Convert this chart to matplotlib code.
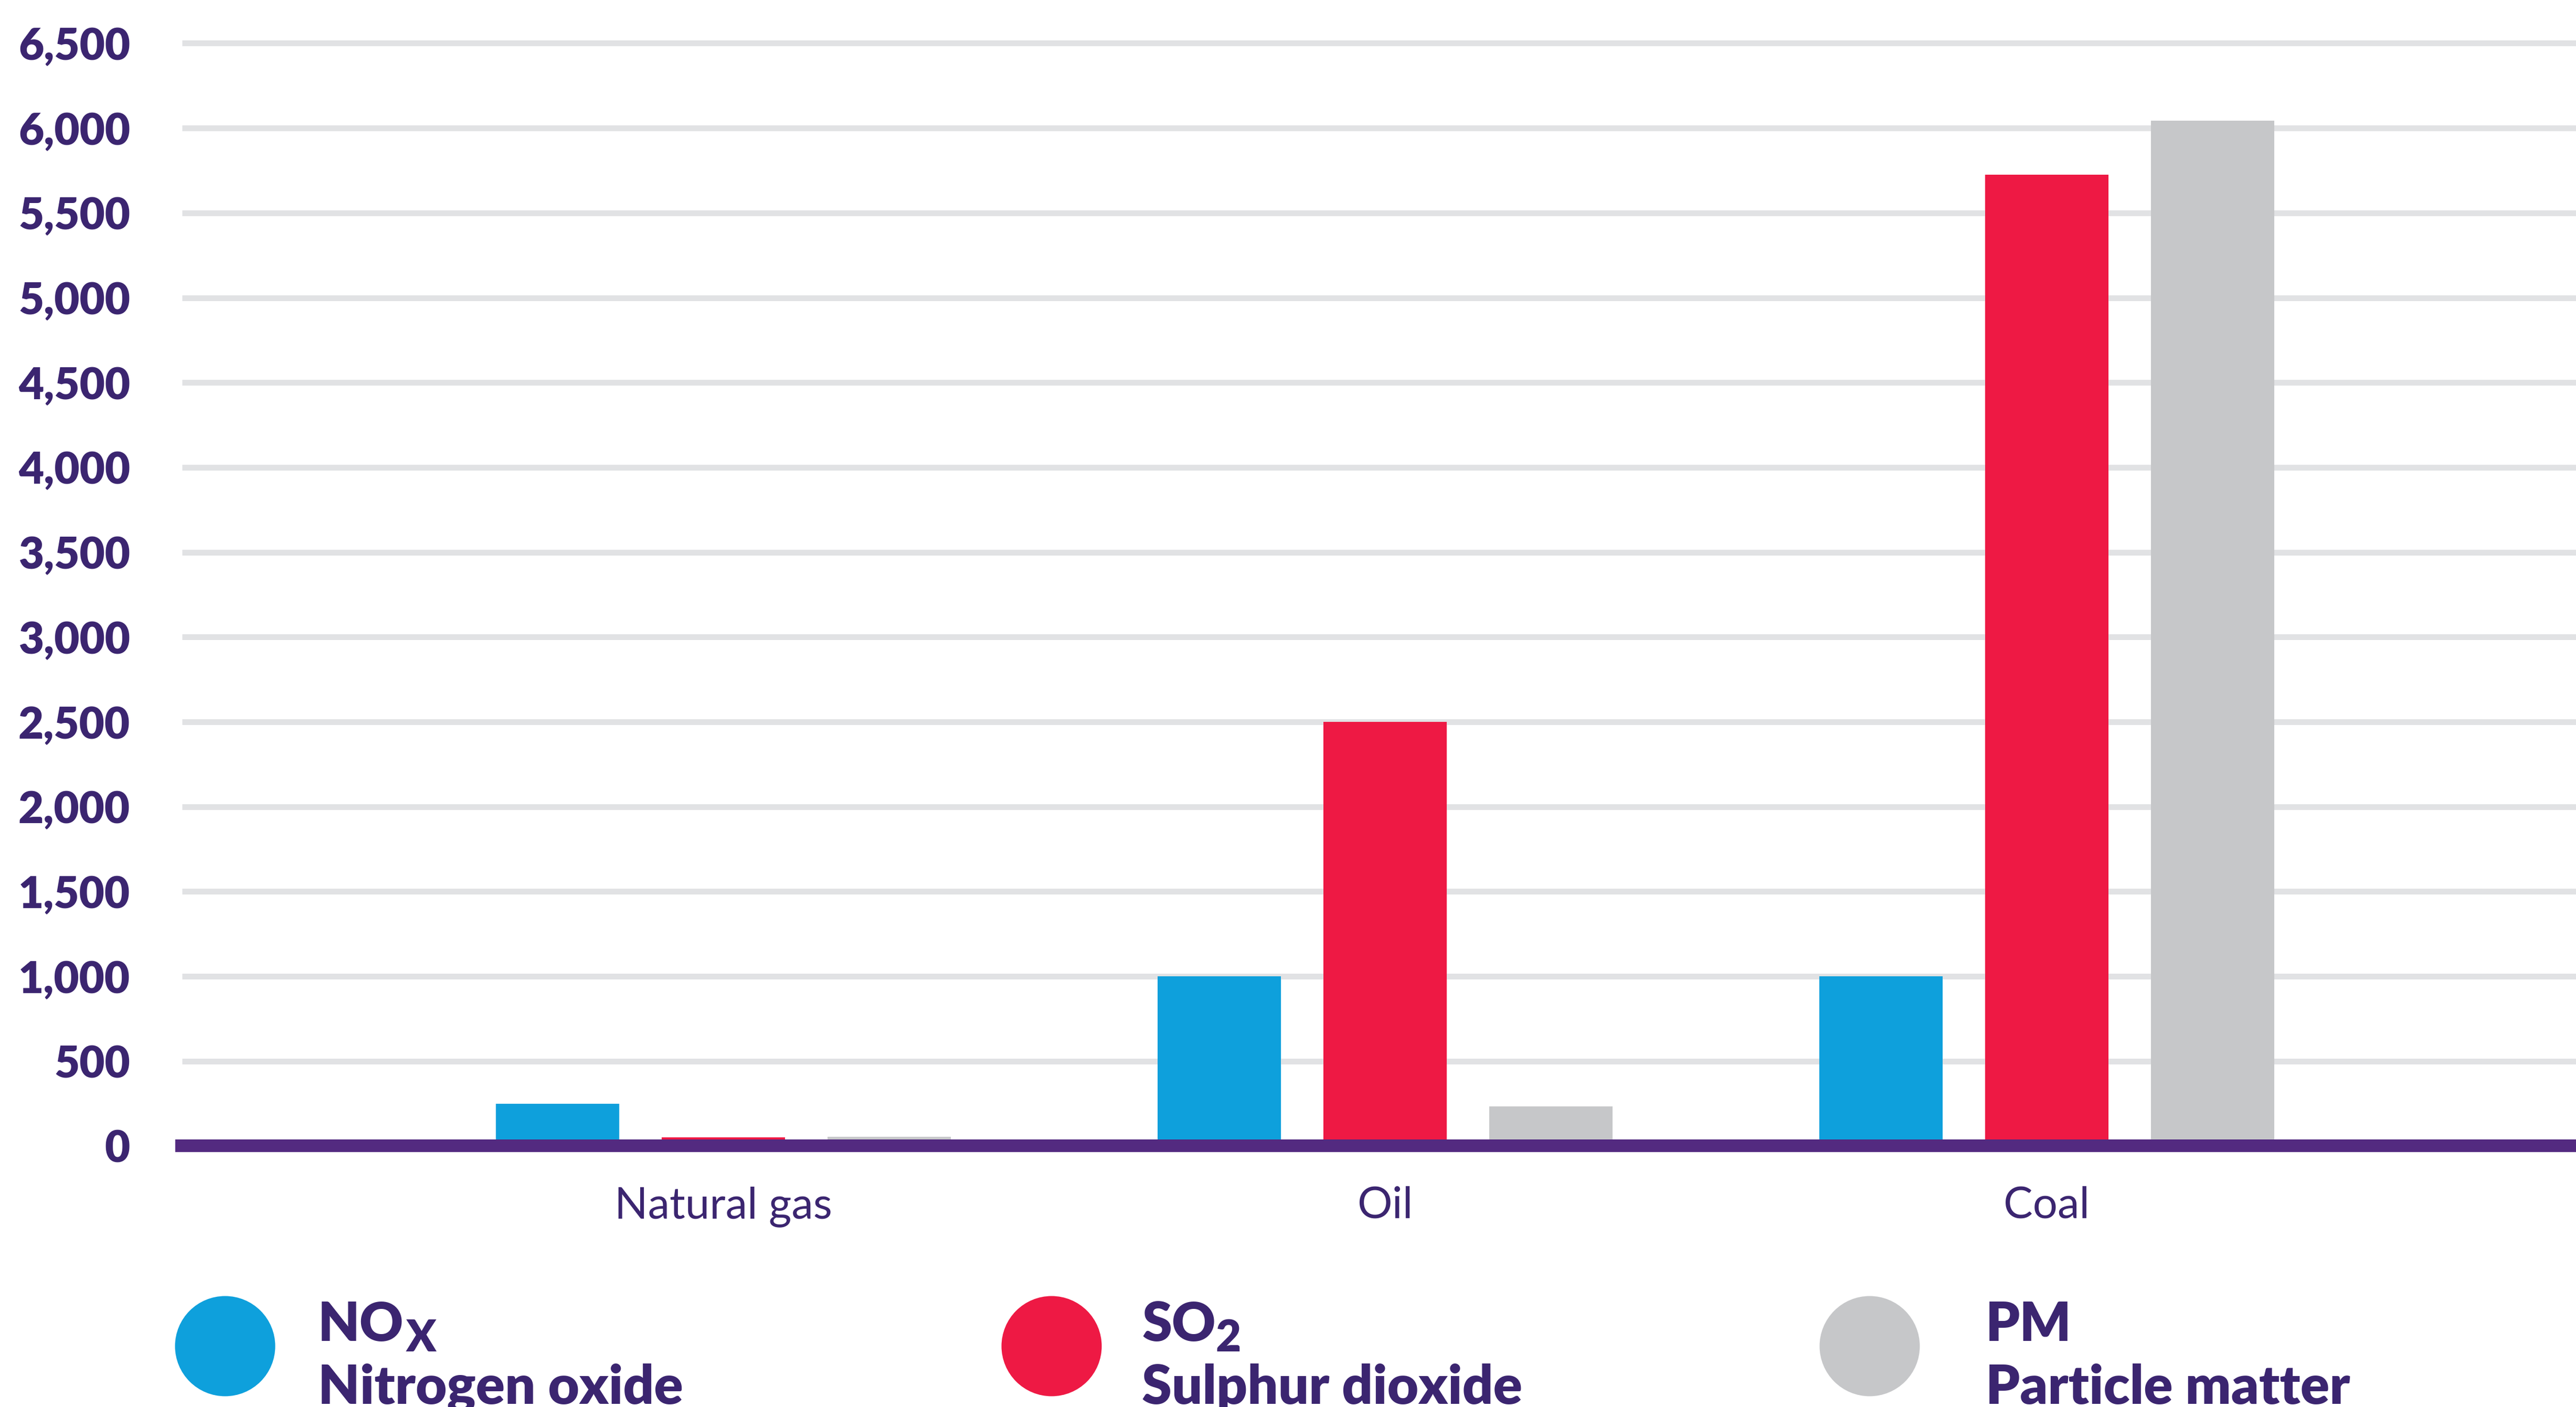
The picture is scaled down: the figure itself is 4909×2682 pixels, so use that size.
import matplotlib
matplotlib.use('Agg')
import matplotlib.pyplot as plt
from matplotlib.patches import Ellipse
import numpy as np

# ---------------- data ----------------
categories = ['Natural gas', 'Oil', 'Coal']
nox = [250, 1000, 1000]
so2 = [50, 2500, 5725]
pm = [55, 233, 6045]
y_ticks = list(range(0, 7000, 500))
y_tick_labels = [f'{v:,}' for v in y_ticks]
legend_main = ['NO', 'SO', 'PM']
legend_sub = ['X', '2', '']
legend_desc = ['Nitrogen oxide', 'Sulphur dioxide', 'Particle matter']

# ---------------- style ----------------
colors = ['#0ea0dc', '#ee1944', '#c6c7c9']
TEXT = '#3b2570'
BASE = '#532a80'
GRID = '#e1e2e4'
FONT = ['Lato', 'DejaVu Sans']
plt.rcParams['font.family'] = FONT

W, H = 4909, 2682
PT = 100 / 72.0  # px per point
fig = plt.figure(figsize=(W / 100, H / 100), dpi=100)
ax_left = 334
ax = fig.add_axes([ax_left / W, 0.17345, 1 - ax_left / W, 0.80787])

x = np.arange(len(categories))
width = 0.1864
step = 0.2506
for i, vals in enumerate([nox, so2, pm]):
    ax.bar(x + (i - 1) * step, vals, width=width, color=colors[i],
           linewidth=0, zorder=2)

ax.set_xlim(-0.8283, 2.7998)
ax.set_ylim(-100, 6600)

for v in y_ticks[1:]:
    ax.axhline(v, xmin=13 / (W - ax_left), xmax=1, color=GRID,
               lw=11 / PT, zorder=1, solid_capstyle='butt')
ax.axhline(0, color=BASE, lw=24 / PT, zorder=3, solid_capstyle='butt')

ax.set_yticks(y_ticks)
ax.set_yticklabels(y_tick_labels, fontsize=60, fontweight='heavy', color=TEXT)
ax.tick_params(axis='y', length=0, pad=86 / PT)
ax.set_xticks(x)
ax.set_xticklabels(categories, fontsize=60, color=TEXT)
ax.tick_params(axis='x', length=0, pad=44 / PT)
for s in ax.spines.values():
    s.set_visible(False)

# ---------------- legend ----------------
circ_x = [429, 2004, 3563]
text_x = [606, 2176, 3784]
circ_y = 2566
d = 191
base1 = 2556
base2 = 2676
gaps = [4, 0, 0]
renderer = fig.canvas.get_renderer()
for i in range(3):
    fig.add_artist(Ellipse((circ_x[i] / W, (H - circ_y) / H), d / W, d / H,
                           transform=fig.transFigure, color=colors[i], lw=0))
    t = fig.text(text_x[i] / W, (H - base1) / H, legend_main[i], fontsize=74,
                 fontweight='heavy', color=TEXT, va='baseline', ha='left')
    if legend_sub[i]:
        bb = t.get_window_extent(renderer)
        fig.text((bb.x1 + gaps[i]) / W, (H - base1 - 20) / H, legend_sub[i],
                 fontsize=60, fontweight='heavy', color=TEXT, va='baseline',
                 ha='left')
    fig.text(text_x[i] / W, (H - base2) / H, legend_desc[i], fontsize=74,
             fontweight='heavy', color=TEXT, va='baseline', ha='left')

fig.savefig('out.png', dpi=100, facecolor='white')
